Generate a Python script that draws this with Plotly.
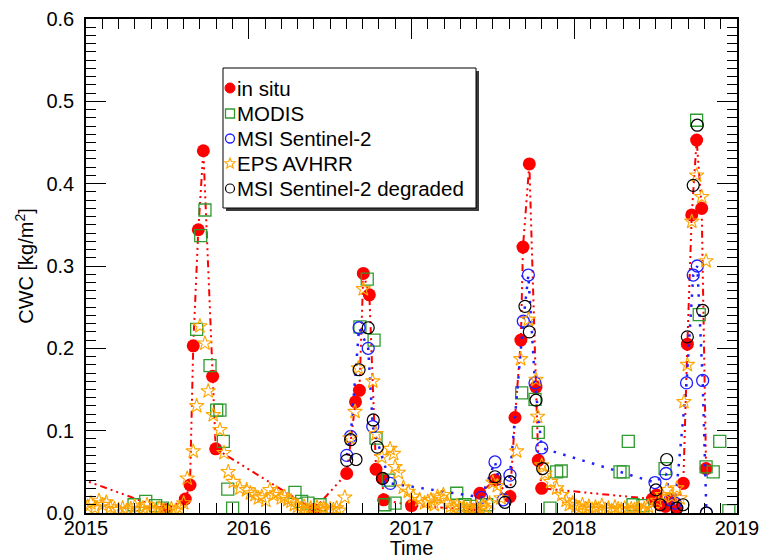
import math
import plotly.graph_objects as go

# ---------------- data (decimal year, CWC kg/m2) ----------------
insitu_t = [2014.92, 2015.49, 2015.61, 2015.639, 2015.659, 2015.690, 2015.721, 2015.778, 2015.797,
            2016.40, 2016.602, 2016.656, 2016.680, 2016.704, 2016.741, 2016.782, 2016.820, 2016.829,
            2017.00, 2017.38, 2017.42, 2017.513, 2017.605, 2017.636, 2017.672, 2017.685, 2017.724,
            2017.765, 2017.779, 2017.80, 2018.48, 2018.506, 2018.527, 2018.56, 2018.59, 2018.63,
            2018.67, 2018.695, 2018.722, 2018.752, 2018.783, 2018.810]
insitu_v = [0.045, 0.004, 0.017, 0.034, 0.203, 0.344, 0.440, 0.166, 0.078,
            0.004, 0.048, 0.135, 0.149, 0.291, 0.265, 0.053, 0.042, 0.016,
            0.009, 0.004, 0.024, 0.040, 0.020, 0.116, 0.210, 0.323, 0.424,
            0.153, 0.064, 0.030, 0.017, 0.022, 0.010, 0.008, 0.016, 0.006,
            0.036, 0.205, 0.362, 0.453, 0.370, 0.054]

modis_t = [2015.295, 2015.367, 2015.428, 2015.47, 2015.68, 2015.705, 2015.731, 2015.762, 2015.803,
           2015.823, 2015.844, 2015.871, 2015.901, 2016.284, 2016.325, 2016.364, 2016.438,
           2016.683, 2016.728, 2016.770, 2016.782, 2016.837, 2016.857, 2016.899,
           2017.278, 2017.329, 2017.36, 2017.462, 2017.677, 2017.759, 2017.779, 2017.851,
           2017.892, 2017.92, 2018.281, 2018.301, 2018.332, 2018.361, 2018.422, 2018.558,
           2018.752, 2018.768, 2018.81, 2018.854, 2018.894, 2018.95]
modis_v = [0.010, 0.014, 0.009, 0.006, 0.223, 0.337, 0.368, 0.179, 0.125,
           0.125, 0.087, 0.029, 0.006, 0.025, 0.014, 0.012, 0.010,
           0.226, 0.284, 0.210, 0.091, 0.010, 0.040, 0.012,
           0.024, 0.010, 0.008, 0.010, 0.146, 0.138, 0.098, 0.006,
           0.050, 0.051, 0.050, 0.050, 0.087, 0.010, 0.009, 0.054,
           0.477, 0.241, 0.056, 0.050, 0.087, 0.003]

msi_t = [2016.602, 2016.626, 2016.678, 2016.734, 2016.762, 2016.87, 2017.43, 2017.513, 2017.564,
         2017.605, 2017.687, 2017.718, 2017.759, 2017.80, 2018.496, 2018.564, 2018.588, 2018.62,
         2018.69, 2018.731, 2018.756, 2018.789, 2018.812]
msi_v = [0.070, 0.093, 0.225, 0.200, 0.105, 0.036, 0.019, 0.062, 0.016,
         0.046, 0.233, 0.289, 0.158, 0.079, 0.037, 0.048, 0.016, 0.012,
         0.158, 0.289, 0.300, 0.161, 0.000]

eps_t = [2015.01, 2015.03, 2015.055, 2015.08, 2015.10, 2015.125, 2015.15, 2015.175, 2015.20, 2015.225,
         2015.25, 2015.275, 2015.30, 2015.325, 2015.35, 2015.375, 2015.40, 2015.425, 2015.45, 2015.475,
         2015.50, 2015.525, 2015.55, 2015.575, 2015.60,
         2015.622, 2015.659, 2015.68, 2015.70, 2015.731, 2015.751, 2015.782, 2015.823, 2015.848, 2015.874,
         2015.905, 2015.946, 2015.987, 2016.01, 2016.038, 2016.06, 2016.08, 2016.105, 2016.13, 2016.15,
         2016.17, 2016.20, 2016.22, 2016.24, 2016.26, 2016.28, 2016.30,
         2016.32, 2016.34, 2016.36, 2016.38, 2016.40, 2016.42, 2016.44, 2016.46, 2016.48, 2016.50,
         2016.52, 2016.54, 2016.56, 2016.59,
         2016.622, 2016.653, 2016.673, 2016.704, 2016.762, 2016.782, 2016.817, 2016.868, 2016.89,
         2016.899, 2016.919, 2016.95, 2016.98, 2017.01, 2017.05,
         2017.08, 2017.10, 2017.12, 2017.14, 2017.16, 2017.18, 2017.196, 2017.22, 2017.24, 2017.26,
         2017.28, 2017.30, 2017.32, 2017.34, 2017.36, 2017.38, 2017.40, 2017.42, 2017.44, 2017.46, 2017.48,
         2017.50, 2017.527, 2017.55, 2017.646, 2017.671, 2017.718, 2017.765, 2017.775, 2017.80,
         2017.82, 2017.855, 2017.892, 2017.923,
         2017.95, 2017.97, 2017.99, 2018.01, 2018.03, 2018.05, 2018.07, 2018.09, 2018.11, 2018.13,
         2018.15, 2018.17, 2018.19, 2018.21, 2018.23, 2018.25, 2018.27, 2018.29, 2018.31, 2018.33,
         2018.35, 2018.37, 2018.39, 2018.41, 2018.43, 2018.455, 2018.48,
         2018.51, 2018.54, 2018.568, 2018.60, 2018.63, 2018.65, 2018.674, 2018.695, 2018.722,
         2018.752, 2018.783, 2018.81]
eps_v = [0.008, 0.012, 0.006, 0.015, 0.010, 0.013, 0.007, 0.005, 0.004, 0.006,
         0.003, 0.005, 0.008, 0.004, 0.006, 0.010, 0.005, 0.003, 0.006, 0.004,
         0.002, 0.005, 0.003, 0.006, 0.012,
         0.042, 0.075, 0.130, 0.227, 0.206, 0.148, 0.119, 0.101, 0.073, 0.050,
         0.038, 0.030, 0.028, 0.024, 0.022, 0.018, 0.020, 0.015, 0.028, 0.022,
         0.024, 0.018, 0.020, 0.016, 0.014, 0.010, 0.008,
         0.005, 0.008, 0.004, 0.006, 0.003, 0.007, 0.004, 0.006, 0.003, 0.005,
         0.004, 0.006, 0.003, 0.019,
         0.091, 0.123, 0.176, 0.272, 0.160, 0.096, 0.068, 0.078, 0.072,
         0.056, 0.049, 0.031, 0.026, 0.020, 0.016,
         0.012, 0.014, 0.016, 0.010, 0.020, 0.018, 0.022, 0.012, 0.008, 0.006,
         0.009, 0.005, 0.007, 0.004, 0.006, 0.003, 0.007, 0.005, 0.009, 0.006, 0.012,
         0.037, 0.033, 0.018, 0.075, 0.187, 0.235, 0.162, 0.117, 0.058,
         0.048, 0.038, 0.030, 0.022,
         0.015, 0.010, 0.012, 0.008, 0.006, 0.010, 0.005, 0.008, 0.004, 0.007,
         0.005, 0.009, 0.004, 0.006, 0.003, 0.007, 0.005, 0.004, 0.006, 0.003,
         0.005, 0.004, 0.006, 0.003, 0.005, 0.008, 0.004,
         0.015, 0.022, 0.028, 0.020, 0.030, 0.018, 0.135, 0.180, 0.354,
         0.410, 0.384, 0.306]

deg_t = [2016.602, 2016.626, 2016.659, 2016.678, 2016.734, 2016.765, 2016.79, 2016.823,
         2017.513, 2017.574, 2017.605, 2017.697, 2017.724, 2017.765, 2017.806,
         2018.502, 2018.527, 2018.568, 2018.63, 2018.668, 2018.695, 2018.731, 2018.756, 2018.789, 2018.812]
deg_v = [0.064, 0.089, 0.065, 0.174, 0.225, 0.113, 0.080, 0.042,
         0.044, 0.013, 0.038, 0.251, 0.220, 0.137, 0.054,
         0.028, 0.010, 0.065, 0.006, 0.010, 0.214, 0.398, 0.471, 0.246, 0.000]

year_ticks = [2015, 2016, 2017, 2018, 2019]
cwc_ticks = [0.0, 0.1, 0.2, 0.3, 0.4, 0.5, 0.6]

series_names = ["in situ", "MODIS", "MSI Sentinel-2", "EPS AVHRR", "MSI Sentinel-2 degraded"]

# ---------------- styles ----------------
RED = "#ff0000"
GREEN = "#2f9a2f"
BLUE = "#1f1fff"
ORANGE = "#ffa500"
BLACK = "#000000"
FONT = "Liberation Sans, Arial, Helvetica, sans-serif"

W, H = 761, 559
ML, MR, MT, MB = 86, 24, 19, 46
PW, PH = W - ML - MR, H - MT - MB

m_insitu = dict(symbol="circle", size=13, color=RED)
m_modis = dict(symbol="square-open", size=12, color=GREEN, line=dict(width=1.3))
m_msi = dict(symbol="circle-open", size=12, color=BLUE, line=dict(width=1.3))
m_eps = dict(symbol="star-open", size=11, color=ORANGE, line=dict(width=1.1))
m_deg = dict(symbol="circle-open", size=12, color=BLACK, line=dict(width=1.2))

fig = go.Figure()
fig.add_trace(go.Scatter(x=insitu_t, y=insitu_v, mode="lines+markers", marker=m_insitu, name=series_names[0],
                         line=dict(color=RED, width=2, dash="7px,4px,2px,4px,2px,4px,2px,4px"),
                         showlegend=False))
fig.add_trace(go.Scatter(x=modis_t, y=modis_v, mode="markers", marker=m_modis, name=series_names[1],
                         showlegend=False))
fig.add_trace(go.Scatter(x=msi_t, y=msi_v, mode="lines+markers", marker=m_msi, name=series_names[2],
                         line=dict(color=BLUE, width=2.5, dash="2.5px,7.5px"), showlegend=False))
fig.add_trace(go.Scatter(x=eps_t, y=eps_v, mode="markers", marker=m_eps, name=series_names[3],
                         showlegend=False))
fig.add_trace(go.Scatter(x=deg_t, y=deg_v, mode="markers", marker=m_deg, name=series_names[4],
                         showlegend=False))


# ---------------- legend box (IDL style, with drop shadow) ----------------
def px2x(px):
    return (px - ML) / PW


def py2y(py):
    return (MT + PH - py) / PH


LEG_L, LEG_R, LEG_T, LEG_B = 223, 476, 68, 208
ROWS = [88, 113.5, 138.5, 163.5, 188.5]
SYM_X, TXT_X = 230, 235

shapes = [
    dict(type="rect", xref="paper", yref="paper", layer="above",
         x0=px2x(LEG_L + 3), x1=px2x(LEG_R + 3), y0=py2y(LEG_B + 3), y1=py2y(LEG_T + 3),
         fillcolor="#3a3a3a", line=dict(width=0)),
    dict(type="rect", xref="paper", yref="paper", layer="above",
         x0=px2x(LEG_L), x1=px2x(LEG_R), y0=py2y(LEG_B), y1=py2y(LEG_T),
         fillcolor="white", line=dict(color=BLACK, width=1)),
]


def sym_shape(kind, color, row, lw=1.2, filled=False):
    base = dict(xref="paper", yref="paper", layer="above", xsizemode="pixel", ysizemode="pixel",
                xanchor=px2x(SYM_X), yanchor=py2y(row), line=dict(color=color, width=lw),
                fillcolor=color if filled else "rgba(0,0,0,0)")
    if kind == "circle":
        r = 5 if filled else 4.5
        base.update(type="circle", x0=-r, x1=r, y0=-r, y1=r)
    elif kind == "square":
        base.update(type="rect", x0=-4.5, x1=4.5, y0=-4.5, y1=4.5)
    elif kind == "star":
        pts = []
        for k in range(10):
            rad = 5.5 if k % 2 == 0 else 2.4
            ang = math.pi / 2 + k * math.pi / 5
            pts.append((rad * math.cos(ang), rad * math.sin(ang)))
        path = "M " + " L ".join(f"{x:.2f},{y:.2f}" for x, y in pts) + " Z"
        base.update(type="path", path=path)
    return base


shapes += [
    sym_shape("circle", RED, ROWS[0], lw=1, filled=True),
    sym_shape("square", GREEN, ROWS[1], lw=1.3),
    sym_shape("circle", BLUE, ROWS[2], lw=1.3),
    sym_shape("star", ORANGE, ROWS[3], lw=1.1),
    sym_shape("circle", BLACK, ROWS[4], lw=1.2),
]

annotations = [
    dict(xref="paper", yref="paper", x=px2x(TXT_X), y=py2y(row), xanchor="left", yanchor="middle",
         text=name, showarrow=False, font=dict(family=FONT, size=20.5, color=BLACK))
    for name, row in zip(series_names, ROWS)
]

axis_common = dict(
    showline=True, linecolor=BLACK, linewidth=1.5, mirror="ticks",
    ticks="inside", tickcolor=BLACK, tickwidth=1.2, ticklen=20,
    showgrid=False, zeroline=False, automargin=False,
    tickfont=dict(family=FONT, size=20, color=BLACK),
)

fig.update_layout(
    width=W, height=H, autosize=False,
    margin=dict(l=ML, r=MR, t=MT, b=MB),
    paper_bgcolor="white", plot_bgcolor="white",
    font=dict(family=FONT, size=20, color=BLACK),
    showlegend=False,
    shapes=shapes,
    annotations=annotations,
    xaxis=dict(range=[2015, 2019], tickmode="array", tickvals=year_ticks,
               ticktext=[str(y) for y in year_ticks], ticklabelstandoff=-4,
               minor=dict(tick0=2015, dtick=0.1, ticks="inside", ticklen=10,
                          tickcolor=BLACK, tickwidth=1.2),
               title=dict(text="Time", standoff=1, font=dict(family=FONT, size=20)),
               **axis_common),
    yaxis=dict(range=[0, 0.6], tickmode="array", tickvals=cwc_ticks,
               ticktext=[f"{v:.1f}" for v in cwc_ticks], ticklabelstandoff=6,
               minor=dict(tick0=0, dtick=0.01, ticks="inside", ticklen=10,
                          tickcolor=BLACK, tickwidth=1.2),
               title=dict(text="CWC [kg/m<sup>2</sup>]", standoff=7, font=dict(family=FONT, size=20)),
               **axis_common),
)

fig.write_html("out.html", config={"displayModeBar": False},
               post_script="document.body.style.margin='0px';")
